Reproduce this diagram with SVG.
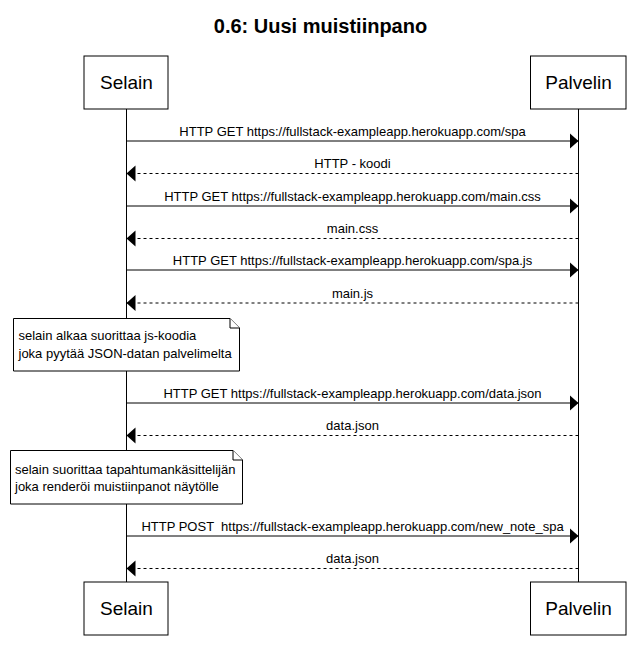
<svg xmlns="http://www.w3.org/2000/svg" width="641" height="659" viewBox="0 0 641 659">
<style>
  .actor { fill: #fff; stroke: #000; stroke-width: 1; }
  .actor-text { font-family: "Liberation Sans", Arial, sans-serif; font-size: 19px; fill: #000; text-anchor: middle; }
  .life { stroke: #000; stroke-width: 1; fill: none; }
  .msg { stroke: #000; stroke-width: 1; fill: none; }
  .dash { stroke-dasharray: 3,3; }
  .msg-text { font-family: "Liberation Sans", Arial, sans-serif; font-size: 13px; fill: #000; text-anchor: middle; }
  .note { fill: #fff; stroke: #000; stroke-width: 1; }
  .note-text { font-family: "Liberation Sans", Arial, sans-serif; font-size: 13px; fill: #000; }
  .title { font-family: "Liberation Sans", Arial, sans-serif; font-size: 20px; font-weight: bold; fill: #000; text-anchor: middle; }
</style>
<defs>
  <marker id="arrow" markerUnits="userSpaceOnUse" markerWidth="10" markerHeight="17" refX="9" refY="8" orient="auto">
    <path d="M0,0 L9,8 L0,16 z" fill="#000"/>
  </marker>
</defs>
<rect width="641" height="659" fill="#fff"/>
<text class="title" x="320.5" y="33">0.6: Uusi muistiinpano</text>

<g id="lifelines">
  <line class="life" x1="126.5" y1="109" x2="126.5" y2="582"/>
  <line class="life" x1="578.5" y1="109" x2="578.5" y2="582"/>
</g>

<g id="selain-top">
  <rect class="actor" x="84" y="56" width="84" height="53"/>
  <text class="actor-text" x="126.5" y="89">Selain</text>
</g>
<g id="palvelin-top">
  <rect class="actor" x="530.5" y="56" width="95.5" height="53"/>
  <text class="actor-text" x="578.5" y="89">Palvelin</text>
</g>

<g id="connectors">
  <line class="msg" x1="126.5" y1="141" x2="578.5" y2="141" marker-end="url(#arrow)"/>
  <text class="msg-text" x="352.5" y="136">HTTP GET https://fullstack-exampleapp.herokuapp.com/spa</text>

  <line class="msg dash" x1="578.5" y1="173.5" x2="126.5" y2="173.5" marker-end="url(#arrow)"/>
  <text class="msg-text" x="352.5" y="168">HTTP - koodi</text>

  <line class="msg" x1="126.5" y1="206" x2="578.5" y2="206" marker-end="url(#arrow)"/>
  <text class="msg-text" x="352.5" y="201">HTTP GET https://fullstack-exampleapp.herokuapp.com/main.css</text>

  <line class="msg dash" x1="578.5" y1="238.5" x2="126.5" y2="238.5" marker-end="url(#arrow)"/>
  <text class="msg-text" x="352.5" y="233">main.css</text>

  <line class="msg" x1="126.5" y1="270" x2="578.5" y2="270" marker-end="url(#arrow)"/>
  <text class="msg-text" x="352.5" y="265">HTTP GET https://fullstack-exampleapp.herokuapp.com/spa.js</text>

  <line class="msg dash" x1="578.5" y1="303" x2="126.5" y2="303" marker-end="url(#arrow)"/>
  <text class="msg-text" x="352.5" y="298">main.js</text>

  <line class="msg" x1="126.5" y1="403" x2="578.5" y2="403" marker-end="url(#arrow)"/>
  <text class="msg-text" x="352.5" y="398">HTTP GET https://fullstack-exampleapp.herokuapp.com/data.json</text>

  <line class="msg dash" x1="578.5" y1="435.5" x2="126.5" y2="435.5" marker-end="url(#arrow)"/>
  <text class="msg-text" x="352.5" y="430">data.json</text>

  <line class="msg" x1="126.5" y1="536" x2="578.5" y2="536" marker-end="url(#arrow)"/>
  <text class="msg-text" x="352.5" y="531" xml:space="preserve">HTTP POST  https://fullstack-exampleapp.herokuapp.com/new_note_spa</text>

  <line class="msg dash" x1="578.5" y1="568.5" x2="126.5" y2="568.5" marker-end="url(#arrow)"/>
  <text class="msg-text" x="352.5" y="563">data.json</text>
</g>

<g id="note1">
  <path class="note" d="M13.5,318.5 L230,318.5 L239.5,328 L239.5,371 L13.5,371 Z"/>
  <path class="note" d="M230,318.5 L230,328 L239.5,328" fill="none"/>
  <text class="note-text" x="18.5" y="340">selain alkaa suorittaa js-koodia</text>
  <text class="note-text" x="18.5" y="357.5">joka pyytää JSON-datan palvelimelta</text>
</g>

<g id="note2">
  <path class="note" d="M10.5,450.5 L233,450.5 L242.5,460 L242.5,504 L10.5,504 Z"/>
  <path class="note" d="M233,450.5 L233,460 L242.5,460" fill="none"/>
  <text class="note-text" x="15" y="474">selain suorittaa tapahtumankäsittelijän</text>
  <text class="note-text" x="15" y="491">joka renderöi muistiinpanot näytölle</text>
</g>

<g id="selain-bottom">
  <rect class="actor" x="84" y="582" width="84" height="53"/>
  <text class="actor-text" x="126.5" y="615">Selain</text>
</g>
<g id="palvelin-bottom">
  <rect class="actor" x="530.5" y="582" width="95.5" height="53"/>
  <text class="actor-text" x="578.5" y="615">Palvelin</text>
</g>
</svg>
